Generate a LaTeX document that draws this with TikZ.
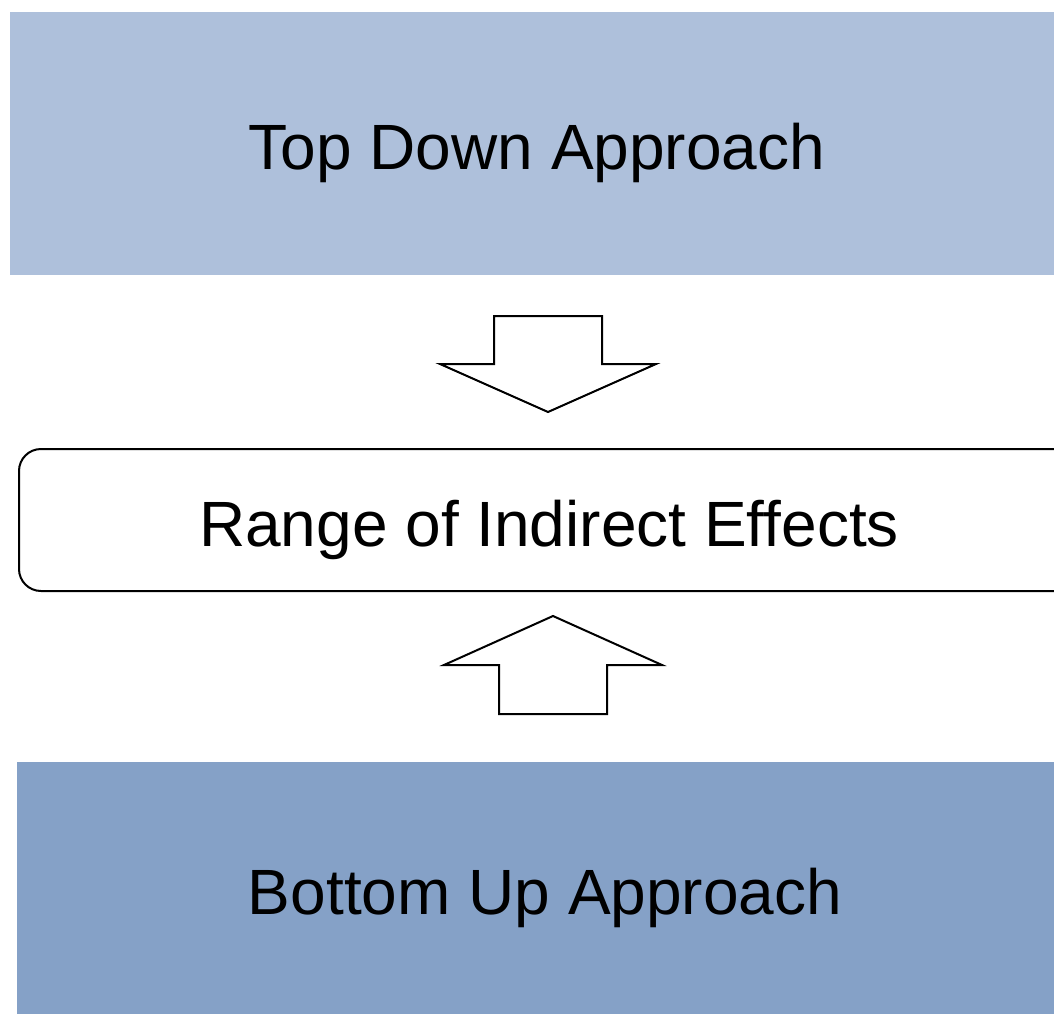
\documentclass[tikz,border=0pt]{standalone}
\usepackage{fontspec}
\setmainfont{Liberation Sans}
\definecolor{topblue}{HTML}{AEC0DB}
\definecolor{botblue}{HTML}{85A1C7}

\begin{document}
\begin{tikzpicture}[x=0.75pt, y=-0.75pt,
    appbox/.style={rectangle, inner sep=0pt, text height=39pt, text depth=0pt, font=\fontsize{48}{57}\selectfont},
    rangebox/.style={appbox, draw, line width=1.5pt, rounded corners=16.5pt},
    blockarrow/.style={draw, fill=white, line width=1.5pt, line join=miter}]

% page size, boxes run off the right edge
\useasboundingbox (0, 0) rectangle (1054, 1014);
\clip (0, 0) rectangle (1054, 1014);
\fill[white] (0, 0) rectangle (1054, 1014);

% approaches, top and bottom
\node[appbox, fill=topblue, minimum width=790.5pt, minimum height=197.25pt] at (537, 143.5) (topapp) {Top Down Approach};
\node[appbox, fill=botblue, minimum width=792pt, minimum height=189pt] at (545, 888) (botapp) {Bottom Up Approach};

% range, middle
\node[rangebox, minimum width=795pt, minimum height=106.5pt] at (549, 520) (midrange) {Range of Indirect Effects};

% arrow down from top approach
\coordinate (downtip) at (548, 412);
\draw[blockarrow] (downtip) -- ++(-108, -48) -- ++(54, 0) -- ++(0, -48) -- ++(108, 0) -- ++(0, 48) -- ++(54, 0) -- cycle;

% arrow up from bottom approach
\coordinate (uptip) at (553, 616);
\draw[blockarrow] (uptip) -- ++(-109, 49) -- ++(55, 0) -- ++(0, 49) -- ++(108, 0) -- ++(0, -49) -- ++(55, 0) -- cycle;

\end{tikzpicture}
\end{document}
